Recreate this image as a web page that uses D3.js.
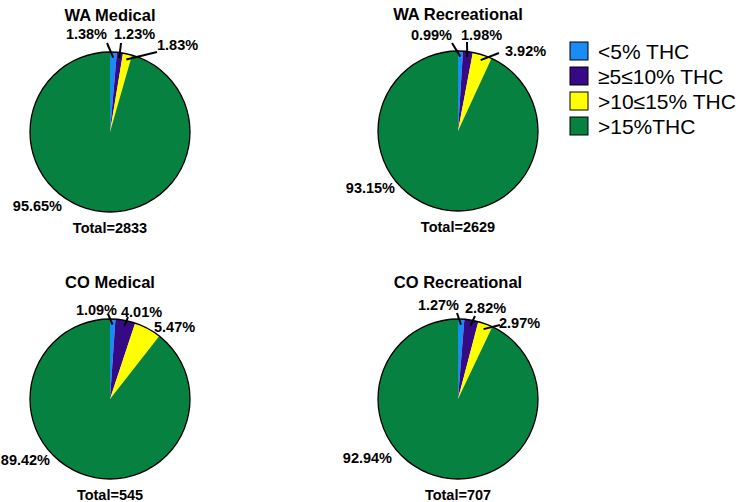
<!DOCTYPE html>
<html lang="en">
<head>
  <meta charset="UTF-8">
  <title>THC potency pies</title>
  <script src="https://d3js.org/d3.v7.min.js"></script>
  <style>
    body { margin: 0; background: #fff; }
    text { font-family: "Liberation Sans", Arial, sans-serif; fill: #000; }
    .title { font-size: 16.5px; font-weight: bold; }
    .pct, .total { font-size: 14.5px; font-weight: bold; }
    .legend text { font-size: 21px; }
  </style>
</head>
<body>
  <svg id="chart" width="740" height="502"></svg>

  <script>
    // data
    const categories = ["<5% THC", "\u22655\u226410% THC", ">10\u226415% THC", ">15%THC"];
    const panels = ["WA Medical", "WA Recreational", "CO Medical", "CO Recreational"];
    const totals = [2833, 2629, 545, 707];
    const waMedical = [1.38, 1.23, 1.83, 95.65];
    const waRecreational = [0.99, 1.98, 3.92, 93.15];
    const coMedical = [1.09, 4.01, 5.47, 89.42];
    const coRecreational = [1.27, 2.82, 2.97, 92.94];
    const series = [waMedical, waRecreational, coMedical, coRecreational];

    const colors = ["#1a8cf5", "#360a85", "#ffff00", "#07813f"];

    // layout: pie centres and label offsets [dx, dy, anchor, lineFrom]
    const centers = [[110, 132], [458, 131], [110, 399], [458, 399]];
    const labelLayout = [
      [[-3, -93, "end", [-3, -89]], [4, -93, "start", [11, -89]], [47, -82, "start", [47, -80]], [-48, 79, "end", null]],
      [[-6, -91, "end", [-6, -88]], [3, -91, "start", [9, -89]], [47, -75, "start", [41, -78]], [-63, 62, "end", null]],
      [[7, -84, "end", [-2, -85]], [11, -82, "start", [18, -82]], [44, -67, "start", null], [-60, 66, "end", null]],
      [[1, -89, "end", [-1, -86]], [7, -86, "start", [17, -83]], [41, -71, "start", [42, -74]], [-66, 64, "end", null]]
    ];
    const radius = 80;

    const svg = d3.select("#chart");
    const color = d3.scaleOrdinal().domain(categories).range(colors);
    const pie = d3.pie().sort(null).value(d => d);
    const arc = d3.arc().innerRadius(0).outerRadius(radius);
    const fmt = d3.format(".2f");

    series.forEach((values, i) => {
      const [cx, cy] = centers[i];
      const g = svg.append("g").attr("transform", `translate(${cx},${cy})`);
      const arcs = pie(values);

      g.selectAll("path.slice")
        .data(arcs)
        .enter()
        .append("path")
        .attr("class", "slice")
        .attr("d", arc)
        .style("fill", (d, j) => color(categories[j]));

      g.append("circle")
        .attr("r", radius)
        .style("fill", "none")
        .style("stroke", "#000")
        .style("stroke-width", 1.3);

      g.append("text")
        .attr("class", "title")
        .attr("y", -111)
        .attr("text-anchor", "middle")
        .text(panels[i]);

      g.append("text")
        .attr("class", "total")
        .attr("y", 101)
        .attr("text-anchor", "middle")
        .text("Total=" + totals[i]);

      arcs.forEach((d, j) => {
        const [dx, dy, anchor, from] = labelLayout[i][j];
        if (from) {
          // leader line ends inside the slice along its mid angle
          const a = (d.startAngle + d.endAngle) / 2;
          const r = radius * 0.93;
          g.append("line")
            .attr("x1", from[0]).attr("y1", from[1])
            .attr("x2", r * Math.sin(a)).attr("y2", -r * Math.cos(a))
            .style("stroke", "#000")
            .style("stroke-width", 2);
        }
        g.append("text")
          .attr("class", "pct")
          .attr("x", dx)
          .attr("y", dy)
          .attr("text-anchor", anchor)
          .text(fmt(d.data) + "%");
      });
    });

    // legend
    const legend = svg.append("g")
      .attr("class", "legend")
      .attr("transform", "translate(570,42)");

    const items = legend.selectAll("g")
      .data(categories)
      .enter()
      .append("g")
      .attr("transform", (d, i) => `translate(0,${i * 25})`);

    items.append("rect")
      .attr("width", 18)
      .attr("height", 18)
      .style("fill", d => color(d))
      .style("stroke", "#000")
      .style("stroke-width", 1);

    items.append("text")
      .attr("x", 28)
      .attr("y", 16.5)
      .text(d => d);
  </script>
</body>
</html>
